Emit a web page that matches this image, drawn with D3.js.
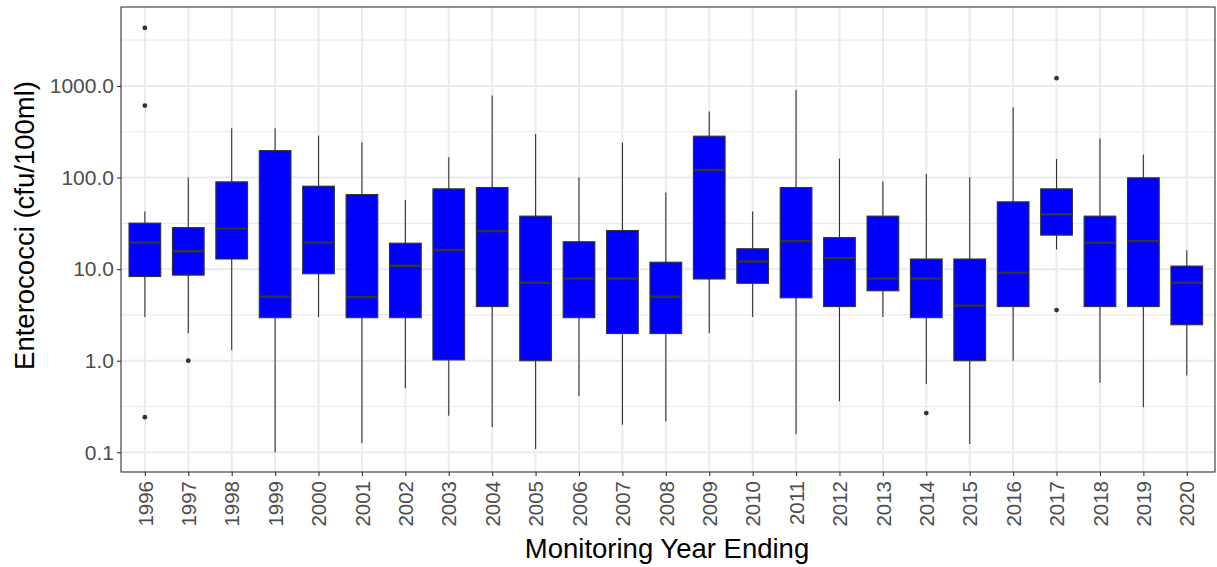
<!DOCTYPE html>
<head>
  <meta charset="utf-8">
  <script src="https://d3js.org/d3.v7.min.js"></script>
  <style>
    body { margin:0; background:#fff; }
    svg { display:block; }
    text { font-family: "Liberation Sans", Arial, sans-serif; }
  </style>
</head>

<body>
  <script>
    // box stats (cfu/100ml)
    var years   = ["1996","1997","1998","1999","2000","2001","2002","2003","2004","2005","2006","2007","2008",
                   "2009","2010","2011","2012","2013","2014","2015","2016","2017","2018","2019","2020"];
    var lowWhisk = [3.0, 2.0, 1.3, 0.1, 3.0, 0.126, 0.5, 0.25, 0.188, 0.109, 0.41, 0.2, 0.217,
                    2.0, 3.0, 0.158, 0.36, 3.0, 0.556, 0.123, 1.0, 16.4, 0.574, 0.311, 0.69];
    var q1       = [8.3, 8.6, 12.9, 2.95, 8.9, 2.95, 2.95, 1.02, 3.9, 1.0, 2.95, 1.98, 1.98,
                    7.8, 7.0, 4.86, 3.9, 5.8, 2.95, 1.0, 3.9, 23.5, 3.9, 3.9, 2.47];
    var medians  = [19.5, 15.7, 27.7, 5.0, 19.5, 4.95, 10.9, 16.2, 26, 7.1, 7.9, 7.9, 5.0,
                    121, 12.1, 20.2, 13.2, 7.9, 7.9, 4.0, 9.1, 39.8, 19.4, 20.2, 7.1];
    var q3       = [31.8, 28.4, 89.7, 197, 80.5, 65.2, 19.2, 75.3, 77.8, 37.9, 19.9, 26.4, 11.9,
                    283, 16.7, 77.8, 22.1, 37.9, 12.9, 12.9, 54.3, 75.3, 37.9, 99.3, 10.8];
    var highWhisk = [42.5, 100, 346, 346, 287, 241, 57, 167, 785, 298, 101, 241, 68.6,
                     526, 42.5, 906, 161, 90.4, 109, 101, 587, 160, 267, 178, 16.1];
    var outYears  = ["1996","1996","1996","1997","2014","2017","2017"];
    var outValues = [4300, 611, 0.242, 1.0, 0.268, 1216, 3.57];
    var yTicks = [0.1, 1, 10, 100, 1000];

    var W = 1217, H = 567,
        pL = 121, pR = 1215, pT = 7, pB = 472;

    var svg = d3.select("body").append("svg").attr("width", W).attr("height", H);

    var y = d3.scaleLog().domain([Math.pow(10, -1.215), Math.pow(10, 3.862)]).range([pB, pT]);
    var step = (pR - pL) / (years.length + 0.2);
    var x = d3.scalePoint().domain(years).range([pL + 0.55 * step, pR - 0.65 * step]);
    var bw = x.step() * 0.73;

    var boxes = years.map(function(yr, i) {
      return { year: yr, lo: lowWhisk[i], q1: q1[i], med: medians[i], q3: q3[i], hi: highWhisk[i] };
    });

    // grid
    var minor = yTicks.map(function(t) { return t * Math.sqrt(10); });
    svg.append("g").selectAll("line").data(minor.filter(function(d) { return y(d) > pT && y(d) < pB; }))
      .enter().append("line")
        .attr("x1", pL).attr("x2", pR)
        .attr("y1", function(d) { return y(d); }).attr("y2", function(d) { return y(d); })
        .attr("stroke", "#ebebeb").attr("stroke-width", 1.1);
    svg.append("g").selectAll("line").data(yTicks)
      .enter().append("line")
        .attr("x1", pL).attr("x2", pR)
        .attr("y1", function(d) { return y(d); }).attr("y2", function(d) { return y(d); })
        .attr("stroke", "#ebebeb").attr("stroke-width", 2);
    svg.append("g").selectAll("line").data(years)
      .enter().append("line")
        .attr("x1", function(d) { return x(d); }).attr("x2", function(d) { return x(d); })
        .attr("y1", pT).attr("y2", pB)
        .attr("stroke", "#ebebeb").attr("stroke-width", 2);

    // whiskers
    var g = svg.append("g");
    g.selectAll(".whisk").data(boxes)
      .enter().append("line")
        .attr("class", "whisk")
        .attr("x1", function(d) { return x(d.year); }).attr("x2", function(d) { return x(d.year); })
        .attr("y1", function(d) { return y(d.hi); }).attr("y2", function(d) { return y(d.lo); })
        .attr("stroke", "#333").attr("stroke-width", 1.1);

    g.selectAll(".box").data(boxes)
      .enter().append("rect")
        .attr("class", "box")
        .attr("x", function(d) { return x(d.year) - bw / 2; })
        .attr("width", bw)
        .attr("y", function(d) { return y(d.q3); })
        .attr("height", function(d) { return y(d.q1) - y(d.q3); })
        .attr("fill", "#0000ff").attr("stroke", "#333").attr("stroke-width", 1.1);

    g.selectAll(".med").data(boxes)
      .enter().append("line")
        .attr("class", "med")
        .attr("x1", function(d) { return x(d.year) - bw / 2; }).attr("x2", function(d) { return x(d.year) + bw / 2; })
        .attr("y1", function(d) { return y(d.med); }).attr("y2", function(d) { return y(d.med); })
        .attr("stroke", "#333").attr("stroke-width", 2.4);

    g.selectAll(".out").data(outYears)
      .enter().append("circle")
        .attr("class", "out")
        .attr("cx", function(d) { return x(d); })
        .attr("cy", function(d, i) { return y(outValues[i]); })
        .attr("r", 2.4).attr("fill", "#333");

    // panel border
    svg.append("rect").attr("x", pL).attr("y", pT).attr("width", pR - pL).attr("height", pB - pT)
      .attr("fill", "none").attr("stroke", "#333").attr("stroke-width", 1.1);

    // axes
    var yAxis = svg.append("g").attr("transform", "translate(" + pL + ",0)")
      .call(d3.axisLeft(y).tickValues(yTicks).tickFormat(d3.format(".1f")).tickSize(4).tickPadding(3));
    var xAxis = svg.append("g").attr("transform", "translate(0," + pB + ")")
      .call(d3.axisBottom(x).tickSize(4).tickPadding(3));
    [yAxis, xAxis].forEach(function(a) {
      a.select(".domain").remove();
      a.selectAll(".tick line").attr("stroke", "#333").attr("stroke-width", 1.1);
      a.selectAll(".tick text").attr("fill", "#4d4d4d").style("font-size", "21px");
    });
    yAxis.selectAll(".tick text").attr("x", -7);
    xAxis.selectAll(".tick text")
      .style("font-size", "20.5px")
      .attr("transform", "rotate(-90)")
      .attr("text-anchor", "end").attr("x", -9).attr("y", 0).attr("dy", "0.35em");

    svg.append("text").attr("x", (pL + pR) / 2 - 1).attr("y", 558)
      .attr("text-anchor", "middle").style("font-size", "27.5px").attr("fill", "#000")
      .text("Monitoring Year Ending");
    svg.append("text").attr("transform", "translate(34," + ((pT + pB) / 2 - 14) + ") rotate(-90)")
      .attr("text-anchor", "middle").style("font-size", "27.5px").attr("fill", "#000")
      .text("Enterococci (cfu/100ml)");
  </script>
</body>

</html>
